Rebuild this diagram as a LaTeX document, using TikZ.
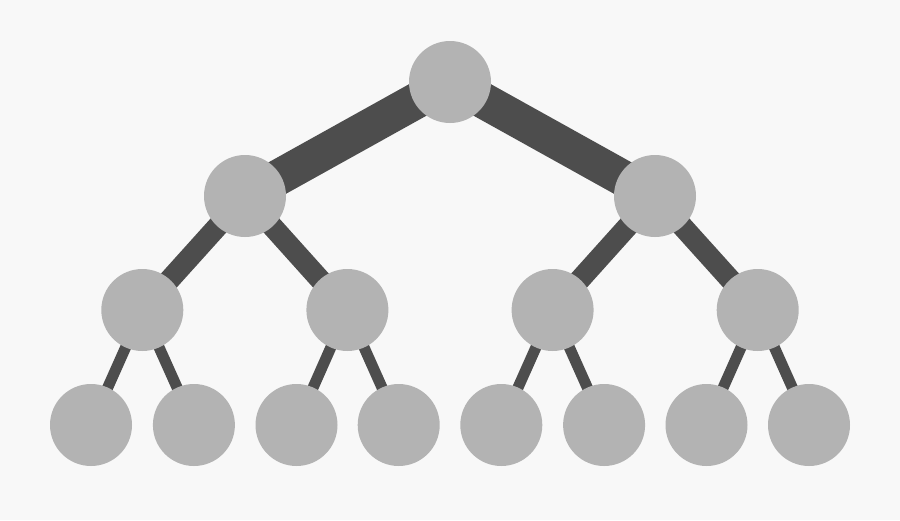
\documentclass[tikz,border=0pt]{standalone}
\usetikzlibrary{backgrounds}
\definecolor{bgc}{HTML}{F8F8F8}
\definecolor{nodec}{HTML}{B3B3B3}
\definecolor{edgec}{HTML}{4D4D4D}
\tikzset{
  tnode/.style={circle,fill=nodec,draw=none,minimum size=82pt,inner sep=0pt},
  edgeA/.style={draw=edgec,line width=36pt},
  edgeB/.style={draw=edgec,line width=21pt},
  edgeC/.style={draw=edgec,line width=11pt}
}
\begin{document}
\begin{tikzpicture}[x=1pt,y=-1pt]
\useasboundingbox (0,0) rectangle (900,520);
\node[tnode] (r) at (450,82) {};
\node[tnode] (l) at (245,196) {};
\node[tnode] (R) at (655,196) {};
\node[tnode] (ll) at (142.3,310) {};
\node[tnode] (lr) at (347.4,310) {};
\node[tnode] (rl) at (552.6,310) {};
\node[tnode] (rr) at (757.7,310) {};
\node[tnode] (a1) at (91,425) {};
\node[tnode] (a2) at (193.9,425) {};
\node[tnode] (a3) at (296.5,425) {};
\node[tnode] (a4) at (398.7,425) {};
\node[tnode] (a5) at (501.3,425) {};
\node[tnode] (a6) at (604.1,425) {};
\node[tnode] (a7) at (706.5,425) {};
\node[tnode] (a8) at (809,425) {};
\begin{scope}[on background layer]
\fill[bgc] (0,0) rectangle (900,520);
\draw[edgeA] (r.center) -- (l.center);
\draw[edgeA] (r.center) -- (R.center);
\draw[edgeB] (l.center) -- (ll.center);
\draw[edgeB] (l.center) -- (lr.center);
\draw[edgeB] (R.center) -- (rl.center);
\draw[edgeB] (R.center) -- (rr.center);
\draw[edgeC] (ll.center) -- (a1.center);
\draw[edgeC] (ll.center) -- (a2.center);
\draw[edgeC] (lr.center) -- (a3.center);
\draw[edgeC] (lr.center) -- (a4.center);
\draw[edgeC] (rl.center) -- (a5.center);
\draw[edgeC] (rl.center) -- (a6.center);
\draw[edgeC] (rr.center) -- (a7.center);
\draw[edgeC] (rr.center) -- (a8.center);
\end{scope}
\end{tikzpicture}
\end{document}
